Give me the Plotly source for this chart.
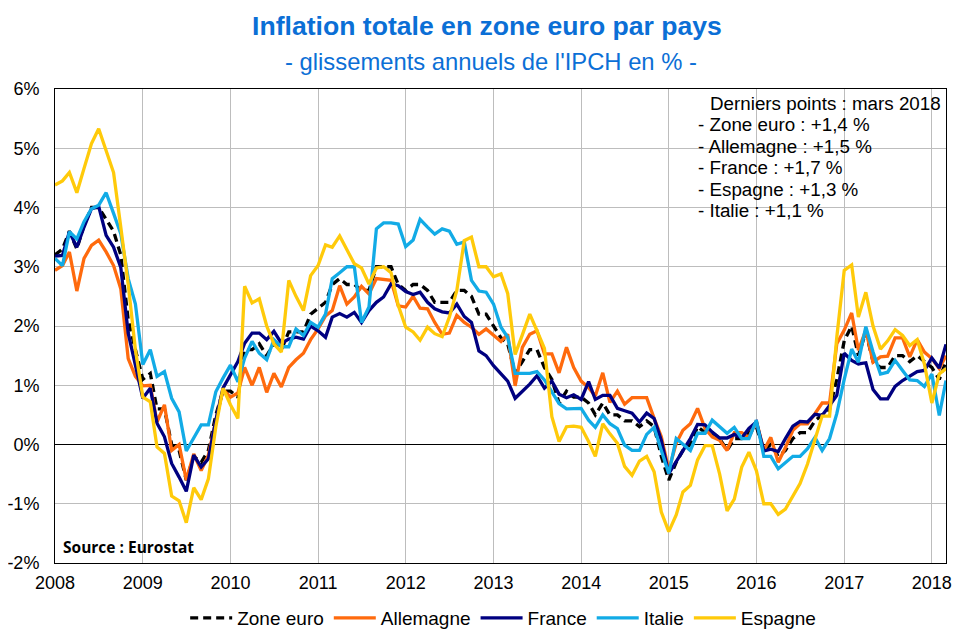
"""Inflation totale en zone euro par pays, glissements annuels de l'IPCH."""

import pandas as pd
import plotly.graph_objects as go

months = pd.date_range("2008-01-01", "2018-03-01", freq="MS")

zone_euro = [
    3.2, 3.3, 3.6, 3.3, 3.7, 4.0, 4.0, 3.8, 3.6, 3.2, 2.1, 1.6,
    1.1, 1.2, 0.6, 0.6, 0.0, -0.1, -0.6, -0.2, -0.3, -0.1, 0.5, 0.9,
    0.9, 0.8, 1.6, 1.6, 1.7, 1.5, 1.7, 1.6, 1.9, 1.9, 1.9, 2.2,
    2.3, 2.4, 2.7, 2.8, 2.7, 2.7, 2.6, 2.6, 3.0, 3.0, 3.0, 2.7,
    2.6, 2.7, 2.7, 2.6, 2.4, 2.4, 2.4, 2.6, 2.6, 2.5, 2.2, 2.2,
    2.0, 1.8, 1.7, 1.2, 1.4, 1.6, 1.6, 1.3, 1.1, 0.7, 0.9, 0.8,
    0.8, 0.7, 0.5, 0.7, 0.5, 0.5, 0.4, 0.4, 0.3, 0.4, 0.3, -0.2,
    -0.6, -0.3, -0.1, 0.0, 0.3, 0.2, 0.2, 0.1, -0.1, 0.1, 0.1, 0.2,
    0.3, -0.1, 0.0, -0.2, -0.1, 0.1, 0.2, 0.2, 0.4, 0.5, 0.6, 1.1,
    1.75, 2.0, 1.5, 1.9, 1.4, 1.3, 1.3, 1.5, 1.5, 1.4, 1.5, 1.4,
    1.3, 1.1, 1.4,
]
allemagne = [
    2.94, 3.02, 3.25, 2.59, 3.14, 3.36, 3.45, 3.25, 3.02, 2.63, 1.45, 1.15,
    0.99, 1.0, 0.38, 0.67, -0.1, 0.0, -0.6, -0.16, -0.44, -0.18, 0.4, 0.93,
    0.8, 0.87, 1.3, 1.0, 1.3, 0.88, 1.2, 0.97, 1.3, 1.43, 1.54, 1.77,
    1.95, 2.17, 2.26, 2.68, 2.37, 2.49, 2.67, 2.54, 2.8, 2.78, 2.77, 2.34,
    2.32, 2.5, 2.3, 2.29, 2.06, 1.86, 1.88, 2.18, 2.06, 1.98, 1.86, 1.95,
    1.84, 1.74, 1.86, 0.99, 1.64, 1.86, 1.92, 1.53, 1.53, 1.21, 1.64, 1.3,
    1.07, 0.96, 0.82, 1.21, 0.71, 0.9, 0.68, 0.79, 0.79, 0.79, 0.44, 0.13,
    -0.43, 0.02, 0.24, 0.35, 0.61, 0.27, 0.13, 0.07, -0.1, 0.2, 0.2, 0.12,
    0.4, -0.1, 0.12, -0.3, -0.05, 0.24, 0.35, 0.35, 0.52, 0.7, 0.7, 1.7,
    1.93, 2.22, 1.59, 1.93, 1.39, 1.48, 1.49, 1.8, 1.8, 1.48, 1.77, 1.56,
    1.45, 1.28, 1.5,
]
france = [
    3.18, 3.19, 3.59, 3.33, 3.67, 3.98, 4.02, 3.53, 3.33, 2.99, 1.88, 1.32,
    0.78, 0.95, 0.36, 0.13, -0.32, -0.55, -0.79, -0.18, -0.38, -0.24, 0.41, 0.95,
    1.17, 1.4, 1.71, 1.88, 1.88, 1.77, 1.91, 1.71, 1.78, 1.81, 1.78, 2.0,
    1.92, 1.81, 2.15, 2.21, 2.15, 2.23, 2.06, 2.26, 2.4, 2.49, 2.71, 2.68,
    2.58, 2.53, 2.57, 2.4, 2.29, 2.24, 2.22, 2.37, 2.16, 2.06, 1.58, 1.5,
    1.33, 1.19, 1.07, 0.78, 0.9, 1.02, 1.16, 0.95, 1.07, 0.85, 0.79, 0.84,
    0.76, 1.06, 0.76, 0.83, 0.83, 0.61, 0.57, 0.53, 0.38, 0.53, 0.44, 0.07,
    -0.49, -0.29, -0.1, 0.1, 0.34, 0.33, 0.21, 0.11, 0.11, 0.17, 0.11, 0.27,
    0.38, -0.11, -0.08, -0.12, 0.1, 0.31, 0.39, 0.38, 0.51, 0.49, 0.66, 0.83,
    1.54, 1.42, 1.36, 1.38, 0.93, 0.77, 0.77, 0.98, 1.08, 1.15, 1.23, 1.25,
    1.46, 1.29, 1.69,
]
italie = [
    3.14, 3.02, 3.59, 3.47, 3.76, 3.98, 4.04, 4.25, 3.9, 3.56, 2.8, 2.37,
    1.35, 1.6, 1.15, 1.23, 0.78, 0.55, -0.11, 0.1, 0.33, 0.33, 0.89, 1.12,
    1.34, 1.06, 1.46, 1.74, 1.54, 1.43, 1.77, 1.65, 1.65, 1.95, 1.84, 2.06,
    1.98, 2.2, 2.8, 2.9, 3.0, 3.0, 2.06, 2.32, 3.64, 3.74, 3.74, 3.72,
    3.34, 3.45, 3.8, 3.67, 3.55, 3.64, 3.6, 3.38, 3.42, 2.77, 2.59, 2.57,
    2.37, 1.98, 1.81, 1.2, 1.2, 1.2, 1.23, 1.09, 0.89, 0.69, 0.6, 0.6,
    0.61, 0.41, 0.29, 0.5, 0.35, 0.27, -0.01, -0.1, -0.1, 0.17, 0.29, -0.1,
    -0.49, 0.1, 0.01, -0.1, 0.19, 0.19, 0.41, 0.3, 0.19, 0.29, 0.1, 0.1,
    0.41, -0.2, -0.2, -0.41, -0.3, -0.2, -0.2, -0.07, 0.12, -0.1, 0.1, 0.52,
    1.1, 1.61, 1.39, 1.99, 1.56, 1.19, 1.22, 1.42, 1.25, 1.09, 1.08, 0.98,
    1.19, 0.49, 1.08,
]
espagne = [
    4.38, 4.45, 4.59, 4.25, 4.66, 5.08, 5.33, 4.97, 4.59, 3.67, 2.7, 1.6,
    0.8, 0.72, -0.04, -0.15, -0.87, -0.95, -1.32, -0.73, -0.93, -0.58, 0.3, 0.95,
    0.67, 0.44, 2.67, 2.39, 2.46, 2.0, 1.7, 1.56, 2.77, 2.5, 2.26, 2.85,
    3.02, 3.37, 3.33, 3.52, 3.3, 3.05, 2.98, 2.71, 2.98, 3.0, 2.9, 2.35,
    1.98, 1.9, 1.76, 1.98, 1.87, 1.82, 2.15, 2.6, 3.44, 3.5, 3.0, 3.0,
    2.83, 2.88, 2.55, 1.52, 1.85, 2.2, 1.92, 1.62, 0.47, 0.05, 0.3, 0.31,
    0.29, 0.05, -0.2, 0.35, 0.18, 0.02, -0.37, -0.52, -0.28, -0.2, -0.46, -1.14,
    -1.47, -1.19, -0.8, -0.69, -0.26, -0.02, -0.02, -0.5, -1.12, -0.92, -0.38, -0.13,
    -0.44, -1.0, -1.0, -1.18, -1.09, -0.86, -0.66, -0.33, 0.07, 0.48, 0.48, 1.81,
    2.94, 3.03, 2.15, 2.57, 2.0, 1.61, 1.75, 1.94, 1.84, 1.67, 1.77, 1.36,
    0.7, 1.19, 1.28,
]

pct_ticks = [-2, -1, 0, 1, 2, 3, 4, 5, 6]
pct_labels = ["-2%", "-1%", "0%", "1%", "2%", "3%", "4%", "5%", "6%"]

note_lines = [
    "- Zone euro : +1,4 %",
    "- Allemagne : +1,5 %",
    "- France : +1,7 %",
    "- Espagne : +1,3 %",
    "- Italie : +1,1 %",
]

WIDTH, HEIGHT = 967, 627
# the page adds 8 px of body margin around the figure
LEFT, RIGHT, TOP, BOTTOM = 47, 29, 81, 72
FONT = "Liberation Sans"
BLUE = "#0B6FD6"


def px_x(x):
    return (x - 8 - LEFT) / (WIDTH - LEFT - RIGHT)


def px_y(y):
    return 1 - (y - 8 - TOP) / (HEIGHT - TOP - BOTTOM)


def note(text, x, y, **font):
    # text anchored by its left edge and vertical middle, in page pixels
    return dict(
        text=text, x=px_x(x), y=px_y(y), xref="paper", yref="paper",
        xanchor="left", yanchor="middle", showarrow=False,
        font={"family": FONT, "size": 18.8, "color": "black", **font})


fig = go.Figure()

series = [
    ("Zone euro", zone_euro, "black", "8px,5px"),
    ("Allemagne", allemagne, "#FF6A0D", "solid"),
    ("France", france, "#000080", "solid"),
    ("Italie", italie, "#12ABE6", "solid"),
    ("Espagne", espagne, "#FFCA0A", "solid"),
]
for name, values, color, dash in series:
    fig.add_trace(go.Scatter(
        x=months, y=values, mode="lines", name=name,
        line={"color": color, "width": 3.3, "dash": dash}))

annotations = [note("- glissements annuels de l'IPCH en % -", 283, 62, size=23.8, color=BLUE)]
annotations.append(note("Derniers points : mars 2018", 708, 104))
for i, line in enumerate(note_lines):
    annotations.append(note(line, 696, 125 + i * 21.4))
annotations.append(note("<b>Source : Eurostat</b>", 61, 547, family="Open Sans", size=15.5))

fig.update_layout(
    width=WIDTH, height=HEIGHT,
    margin={"l": LEFT, "r": RIGHT, "t": TOP, "b": BOTTOM},
    plot_bgcolor="white", paper_bgcolor="white",
    font={"family": FONT, "size": 18, "color": "black"},
    title={"text": "<b>Inflation totale en zone euro par pays</b>",
           "x": 0.4953, "xanchor": "center", "y": 0.971, "yanchor": "middle",
           "font": {"family": FONT, "size": 26.6, "color": BLUE}},
    legend={"orientation": "h", "x": 0.503, "xanchor": "center",
            "yref": "container", "y": 0.027, "yanchor": "middle",
            "font": {"size": 19}, "itemwidth": 42, "tracegroupgap": 0},
    annotations=annotations)

# standoffs would otherwise push the margins and move the plot area
fig.update_xaxes(
    range=[months[0], months[-1]], dtick="M12", tick0="2008-01-01", tickformat="%Y",
    showgrid=True, gridcolor="#BDBDBD", gridwidth=1, zeroline=False,
    showline=True, linecolor="black", linewidth=1, mirror=True, ticks="",
    ticklabelstandoff=3, automargin=False)
fig.update_yaxes(
    range=[-2, 6], tickvals=pct_ticks, ticktext=pct_labels,
    showgrid=True, gridcolor="#BDBDBD", gridwidth=1,
    zeroline=True, zerolinecolor="black", zerolinewidth=1,
    showline=True, linecolor="black", linewidth=1, mirror=True, ticks="",
    ticklabelstandoff=11, automargin=False)

fig.write_html("out.html")
